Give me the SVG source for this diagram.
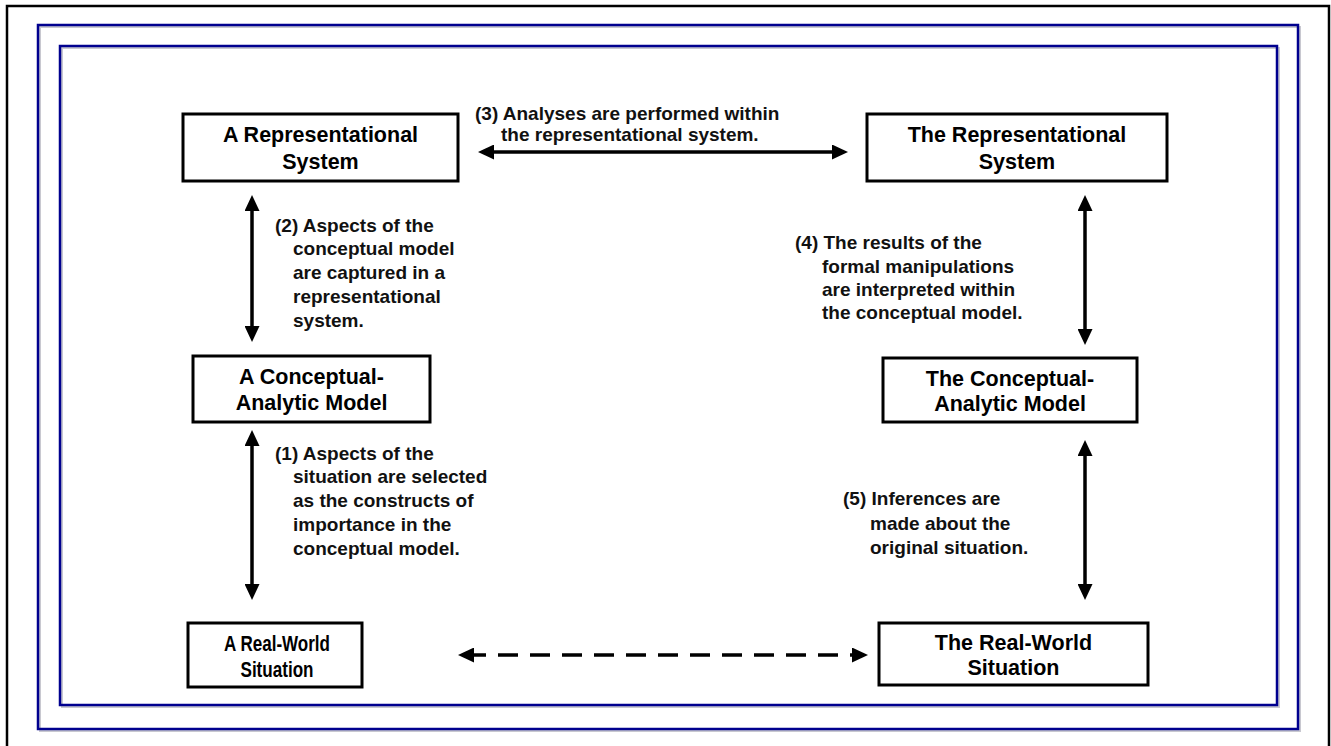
<svg xmlns="http://www.w3.org/2000/svg" width="1331" height="746" viewBox="0 0 1331 746">
  <style>
    .frame { fill: none; stroke: #000; stroke-width: 2.5; }
    .blue { fill: none; stroke: #00008f; stroke-width: 2.5; }
    .shade { fill: none; stroke: #c8c8d0; stroke-width: 2; }
    .box { fill: #fff; stroke: #000; stroke-width: 3; }
    .title { font-family: "Liberation Sans", Arial, sans-serif; font-weight: bold; font-size: 21.5px; fill: #000; text-anchor: middle; }
    .narrow { font-size: 22.5px; }
    .note { font-family: "Liberation Sans", Arial, sans-serif; font-weight: bold; font-size: 19px; fill: #111; }
    .link { fill: none; stroke: #000; stroke-width: 3.5; }
    .dashed { stroke-dasharray: 20 12; }
  </style>
  <defs>
    <marker id="head" viewBox="0 0 16 15" refX="8" refY="7.5" markerWidth="16" markerHeight="15" markerUnits="userSpaceOnUse" orient="auto-start-reverse">
      <path d="M0,0 L16,7.5 L0,15 z" fill="#000"/>
    </marker>
  </defs>

  <rect width="1331" height="746" fill="#fff"/>

  <!-- page frames -->
  <g id="frames">
    <rect class="frame" x="7" y="6" width="1322" height="760"/>
    <rect class="shade" x="40" y="27" width="1260" height="704"/>
    <rect class="blue" x="38" y="25" width="1260" height="704"/>
    <rect class="shade" x="62" y="48" width="1217" height="659"/>
    <rect class="blue" x="60" y="46" width="1217" height="659"/>
  </g>

  <!-- connectors -->
  <g id="connectors">
    <path class="link" d="M486,152 H840" marker-start="url(#head)" marker-end="url(#head)"/>
    <path class="link" d="M252,203 V334" marker-start="url(#head)" marker-end="url(#head)"/>
    <path class="link" d="M252,438 V592" marker-start="url(#head)" marker-end="url(#head)"/>
    <path class="link" d="M1085,203 V337" marker-start="url(#head)" marker-end="url(#head)"/>
    <path class="link" d="M1085,448 V592" marker-start="url(#head)" marker-end="url(#head)"/>
    <path class="link dashed" d="M466,655 H860" marker-start="url(#head)" marker-end="url(#head)"/>
  </g>

  <!-- connector notes -->
  <g id="note-3" class="note">
    <text x="475" y="120">(3) Analyses are performed within</text>
    <text x="501" y="141">the representational system.</text>
  </g>
  <g id="note-2" class="note">
    <text x="275" y="232">(2) Aspects of the</text>
    <text x="293" y="255">conceptual model</text>
    <text x="293" y="279">are captured in a</text>
    <text x="293" y="303">representational</text>
    <text x="293" y="327">system.</text>
  </g>
  <g id="note-4" class="note">
    <text x="795" y="249">(4) The results of the</text>
    <text x="822" y="273">formal manipulations</text>
    <text x="822" y="296">are interpreted within</text>
    <text x="822" y="319">the conceptual model.</text>
  </g>
  <g id="note-1" class="note">
    <text x="275" y="460">(1) Aspects of the</text>
    <text x="293" y="483">situation are selected</text>
    <text x="293" y="507">as the constructs of</text>
    <text x="293" y="531">importance in the</text>
    <text x="293" y="555">conceptual model.</text>
  </g>
  <g id="note-5" class="note">
    <text x="843" y="505">(5) Inferences are</text>
    <text x="870" y="530">made about the</text>
    <text x="870" y="554">original situation.</text>
  </g>

  <!-- nodes -->
  <g id="node-a-representational">
    <rect class="box" x="183" y="114" width="275" height="67"/>
    <text class="title" x="320.5" y="142">A Representational</text>
    <text class="title" x="320.5" y="169">System</text>
  </g>
  <g id="node-the-representational">
    <rect class="box" x="867" y="114" width="300" height="67"/>
    <text class="title" x="1017" y="142">The Representational</text>
    <text class="title" x="1017" y="169">System</text>
  </g>
  <g id="node-a-conceptual">
    <rect class="box" x="193" y="356" width="237" height="66"/>
    <text class="title" x="311.5" y="384">A Conceptual-</text>
    <text class="title" x="311.5" y="410">Analytic Model</text>
  </g>
  <g id="node-the-conceptual">
    <rect class="box" x="883" y="358" width="254" height="64"/>
    <text class="title" x="1010" y="386">The Conceptual-</text>
    <text class="title" x="1010" y="411">Analytic Model</text>
  </g>
  <g id="node-a-real-world">
    <rect class="box" x="188" y="623" width="174" height="64"/>
    <text class="title narrow" x="277" y="651" textLength="106" lengthAdjust="spacingAndGlyphs">A Real-World</text>
    <text class="title narrow" x="277" y="677" textLength="73" lengthAdjust="spacingAndGlyphs">Situation</text>
  </g>
  <g id="node-the-real-world">
    <rect class="box" x="879" y="623" width="269" height="62"/>
    <text class="title" x="1013.5" y="650">The Real-World</text>
    <text class="title" x="1013.5" y="675">Situation</text>
  </g>
</svg>
